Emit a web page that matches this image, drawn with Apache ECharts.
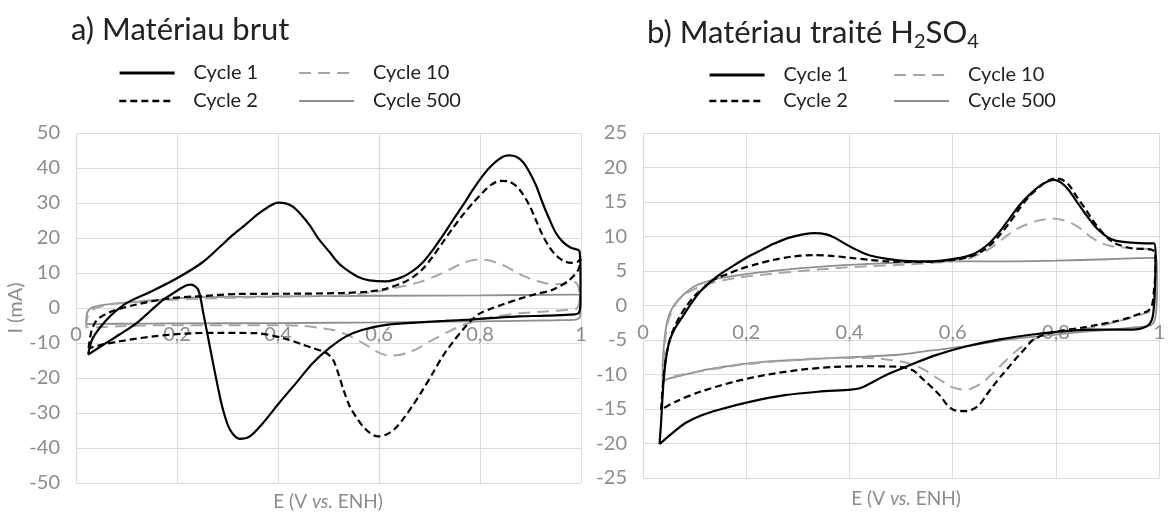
<!DOCTYPE html>
<html>
<head>
<meta charset="utf-8">
<script src="https://cdn.jsdelivr.net/npm/echarts@6/dist/echarts.min.js"></script>
<style>
html,body{margin:0;padding:0;background:#fff;}
#ChartMain{width:1168px;height:515px;}
</style>
</head>
<body>
<div id="ChartMain"></div>
<script>
// a) Matériau brut : [E (V), I (mA)]
var a_cycle1 = [[0.024,-13.3],[0.032,-9],[0.048,-5.5],[0.07,-2],[0.1,1.4],[0.15,4.8],[0.2,8.5],[0.25,13],[0.285,17.5],[0.31,20.8],[0.338,24.1],[0.36,26.8],[0.38,28.8],[0.4,30.1],[0.415,29.9],[0.43,28.9],[0.445,26.8],[0.463,23.6],[0.48,19.8],[0.502,16],[0.52,12.8],[0.542,10.3],[0.56,8.8],[0.581,7.9],[0.614,7.6],[0.647,8.9],[0.667,10.6],[0.687,13.1],[0.707,16.7],[0.727,20.8],[0.746,25],[0.766,29.3],[0.786,33.8],[0.806,37.9],[0.825,41],[0.845,43.2],[0.858,43.6],[0.872,43.2],[0.885,41.7],[0.898,38.8],[0.911,35],[0.924,30],[0.937,25.5],[0.95,21.5],[0.964,18.9],[0.98,17.2],[0.997,16.2],
    [0.999,10],[0.999,2],[0.995,-1.5],[0.977,-1.9],[0.93,-2.2],[0.878,-2.4],[0.83,-2.8],[0.779,-3.3],[0.73,-3.7],[0.68,-4.1],[0.614,-4.8],[0.568,-6.2],[0.535,-8.1],[0.502,-11.4],[0.469,-15.7],[0.436,-21.4],[0.403,-27],[0.37,-32.9],[0.344,-36.7],[0.324,-37.4],[0.305,-34.8],[0.291,-29],[0.278,-20.5],[0.265,-11],[0.252,-1.4],[0.242,5.2],[0.228,6.7],[0.219,6.5],[0.206,5.5],[0.19,4],[0.173,2.4],[0.15,-0.5],[0.12,-4.3],[0.087,-7.5],[0.054,-10.5],[0.024,-13.3]];
var a_cycle2 = [[0.025,-11.5],[0.03,-7],[0.041,-3.5],[0.07,-1],[0.12,1],[0.186,2.8],[0.252,3.4],[0.318,4],[0.45,4.1],[0.53,4.3],[0.581,4.7],[0.614,5.5],[0.647,7.2],[0.667,8.8],[0.687,11.2],[0.707,14.8],[0.727,18.9],[0.746,22.8],[0.766,26.6],[0.786,30],[0.806,33.1],[0.822,35.2],[0.839,36.3],[0.855,36.2],[0.872,34.8],[0.885,32.5],[0.898,29.3],[0.911,25],[0.924,20.8],[0.937,17.5],[0.951,15],[0.965,13.5],[0.98,12.9],[0.993,13.2],[0.999,14],
    [0.995,11],[0.977,8],[0.944,5.2],[0.911,4],[0.878,2.6],[0.845,1],[0.82,-0.3],[0.799,-1.6],[0.783,-3.5],[0.766,-6.2],[0.746,-9.8],[0.726,-13.8],[0.707,-18.5],[0.687,-23.3],[0.667,-27.8],[0.647,-31.9],[0.63,-34.7],[0.614,-36.2],[0.598,-36.7],[0.583,-35.8],[0.568,-33.8],[0.555,-31.2],[0.542,-28.1],[0.53,-23.5],[0.52,-19],[0.509,-14.8],[0.495,-12.8],[0.47,-11.5],[0.45,-10.5],[0.41,-8.6],[0.357,-7.2],[0.285,-7.1],[0.219,-7.3],[0.153,-8.1],[0.087,-9.5],[0.05,-10.5],[0.025,-11.5]];
var a_cycle10 = [[0.02,-5.5],[0.024,-2],[0.035,-0.3],[0.06,0.8],[0.1,1.5],[0.2,2.4],[0.3,2.9],[0.4,3.2],[0.5,3.5],[0.56,4],[0.6,4.8],[0.64,6],[0.68,7.4],[0.71,9],[0.74,11],[0.766,12.8],[0.792,13.8],[0.81,13.8],[0.832,13],[0.852,11.8],[0.872,10.2],[0.892,8.8],[0.911,7.8],[0.93,7.1],[0.951,6.8],[0.97,7],[0.985,7.6],[0.995,6],
    [0.997,2],[0.99,-0.3],[0.977,-0.5],[0.93,-1],[0.878,-1.5],[0.84,-2.2],[0.812,-2.9],[0.79,-3.8],[0.766,-4.9],[0.74,-6.6],[0.713,-8.6],[0.695,-10],[0.68,-11.3],[0.66,-12.6],[0.64,-13.4],[0.621,-13.6],[0.605,-13.1],[0.595,-12.4],[0.578,-10.9],[0.562,-9.5],[0.545,-8.2],[0.529,-7.2],[0.51,-6.3],[0.489,-5.8],[0.45,-5.1],[0.4,-4.9],[0.3,-4.9],[0.186,-4.9],[0.087,-5.2],[0.04,-5.5],[0.02,-5.5]];
var a_cycle500 = [[0.02,-4.5],[0.022,-1.5],[0.03,0],[0.054,0.9],[0.12,1.8],[0.186,2.6],[0.252,3.1],[0.4,3.3],[0.6,3.5],[0.8,3.6],[0.98,3.8],[0.995,3.8],[0.999,1],[0.998,-2.5],[0.99,-3.3],[0.95,-3.5],[0.8,-3.8],[0.6,-4.1],[0.4,-4.3],[0.2,-4.4],[0.08,-4.5],[0.03,-4.6],[0.02,-4.5]];

// b) Matériau traité H2SO4
var b_cycle1 = [[0.032,-20.1],[0.035,-17],[0.038,-13],[0.041,-10],[0.046,-7],[0.052,-5],[0.062,-3.3],[0.075,-1.8],[0.088,-0.3],[0.1,1],[0.113,2.2],[0.13,3.4],[0.151,4.6],[0.18,6],[0.202,7],[0.231,8.1],[0.252,8.9],[0.282,9.8],[0.31,10.3],[0.333,10.5],[0.355,10.3],[0.372,9.8],[0.39,9],[0.41,8.2],[0.43,7.5],[0.448,7.1],[0.47,6.8],[0.5,6.5],[0.53,6.4],[0.563,6.4],[0.59,6.6],[0.614,6.9],[0.635,7.3],[0.653,8],[0.672,9.1],[0.691,10.7],[0.71,12.6],[0.729,14.5],[0.748,16],[0.768,17.3],[0.785,18],[0.797,18.2],[0.81,17.8],[0.825,16.7],[0.84,15.1],[0.855,13.5],[0.87,12],[0.883,10.9],[0.9,9.9],[0.915,9.4],[0.946,9.1],[0.975,9],[0.99,9],
    [0.993,7],[0.992,3],[0.99,0],[0.986,-2],[0.976,-3],[0.947,-3.5],[0.883,-3.5],[0.819,-3.7],[0.755,-4.2],[0.691,-4.9],[0.627,-5.9],[0.563,-7.3],[0.512,-8.8],[0.473,-10],[0.45,-10.9],[0.435,-11.5],[0.42,-12],[0.403,-12.2],[0.339,-12.5],[0.275,-13],[0.211,-13.9],[0.147,-15.1],[0.11,-16],[0.083,-17],[0.055,-18.6],[0.032,-20.1]];
var b_cycle2 = [[0.035,-15.1],[0.038,-12],[0.041,-9.3],[0.047,-6.5],[0.054,-4.4],[0.063,-2.8],[0.072,-1.5],[0.085,0],[0.1,1.4],[0.12,2.7],[0.139,3.8],[0.165,4.6],[0.189,5.3],[0.22,6],[0.252,6.6],[0.29,7.1],[0.328,7.3],[0.365,7.2],[0.403,6.9],[0.44,6.6],[0.474,6.4],[0.537,6.3],[0.601,6.6],[0.63,7],[0.653,7.7],[0.672,8.7],[0.691,10.2],[0.71,12],[0.729,14],[0.748,15.8],[0.768,17.2],[0.785,18.1],[0.8,18.4],[0.813,18.2],[0.826,17.4],[0.84,15.8],[0.857,14],[0.87,12.5],[0.883,11.2],[0.9,9.8],[0.915,9],[0.946,8.3],[0.985,8.1],[0.993,7.5],
    [0.992,4],[0.99,2.3],[0.986,0],[0.978,-0.8],[0.966,-1.1],[0.94,-1.8],[0.915,-2.3],[0.88,-2.8],[0.851,-3.2],[0.806,-3.7],[0.774,-4.3],[0.755,-5],[0.742,-6.1],[0.726,-7.4],[0.71,-8.8],[0.694,-10.2],[0.678,-11.7],[0.665,-13],[0.653,-14.3],[0.64,-15],[0.627,-15.3],[0.614,-15.3],[0.601,-15.1],[0.588,-14.3],[0.576,-13.1],[0.563,-12.1],[0.55,-11.2],[0.537,-10.3],[0.525,-9.5],[0.512,-9.1],[0.499,-8.9],[0.435,-8.8],[0.371,-8.9],[0.307,-9.3],[0.243,-10],[0.179,-11],[0.115,-12.4],[0.064,-13.9],[0.035,-15.1]];
var b_cycle10 = [[0.038,-11],[0.04,-8],[0.043,-5],[0.048,-2.5],[0.058,-0.5],[0.07,0.9],[0.09,2],[0.12,3],[0.18,4],[0.25,4.6],[0.308,5],[0.37,5.4],[0.435,5.7],[0.5,5.9],[0.563,6.2],[0.6,6.4],[0.627,6.7],[0.647,7.3],[0.665,7.9],[0.684,8.9],[0.703,10],[0.722,11],[0.742,11.7],[0.765,12.3],[0.793,12.6],[0.812,12.4],[0.831,11.9],[0.85,11],[0.87,9.8],[0.89,9],[0.908,8.6],[0.946,8.3],[0.985,8.1],[0.993,7.2],
    [0.992,3],[0.99,0.5],[0.985,-0.7],[0.966,-1.3],[0.925,-2.2],[0.883,-3],[0.819,-3.9],[0.774,-4.4],[0.748,-5.3],[0.723,-6.6],[0.7,-8.2],[0.678,-9.8],[0.66,-11],[0.64,-11.9],[0.627,-12.2],[0.611,-12.1],[0.595,-11.7],[0.58,-11],[0.563,-10.2],[0.547,-9.4],[0.531,-8.8],[0.515,-8.4],[0.499,-8.1],[0.435,-7.6],[0.371,-7.6],[0.307,-7.8],[0.243,-8.2],[0.179,-8.7],[0.115,-9.5],[0.064,-10.2],[0.038,-11]];
var b_cycle500 = [[0.038,-11],[0.038,-9],[0.041,-5.4],[0.045,-3],[0.05,-1.5],[0.058,-0.2],[0.069,0.9],[0.085,2],[0.1,2.8],[0.125,3.5],[0.151,4],[0.214,4.7],[0.277,5.2],[0.34,5.6],[0.4,5.9],[0.5,6.2],[0.601,6.4],[0.7,6.4],[0.8,6.5],[0.9,6.7],[0.985,6.9],[0.995,6.9],
    [0.996,3],[0.993,-1.5],[0.985,-2.8],[0.947,-3.2],[0.87,-3.7],[0.8,-4.2],[0.7,-5],[0.627,-5.9],[0.56,-6.5],[0.499,-7.1],[0.43,-7.4],[0.371,-7.6],[0.3,-7.9],[0.243,-8.1],[0.19,-8.5],[0.147,-9],[0.115,-9.4],[0.083,-10],[0.06,-10.4],[0.045,-10.7],[0.038,-11]];

var cycleNames = ['Cycle 1', 'Cycle 2', 'Cycle 10', 'Cycle 500'];

var FONT = 'Lato';
var grey = '#8c8c8c';
var gridColor = '#dcdcdc';

// styles des courbes
var styles = {
    'Cycle 1':   {color: '#000', width: 2.2, type: 'solid'},
    'Cycle 2':   {color: '#000', width: 2.2, type: [7, 4]},
    'Cycle 10':  {color: '#a6a6a6', width: 2, type: [12, 7]},
    'Cycle 500': {color: '#8f8f8f', width: 1.8, type: 'solid'}
};

var grids = [
    {left: 76, top: 133, width: 505, height: 350},
    {left: 643, top: 133, width: 527, height: 345}
];

function makeSeries(name, data, idx) {
    var st = styles[name];
    return {
        name: name, type: 'line', data: data, xAxisIndex: idx, yAxisIndex: idx,
        symbol: 'none', smooth: 0.3, animation: false,
        lineStyle: {color: st.color, width: st.width, type: st.type},
        itemStyle: {color: st.color}
    };
}

function makeLegend(name, left, top) {
    var lw = name === 'Cycle 1' ? 3.2 : (name === 'Cycle 2' ? 2.6 : 2.2);
    return {
        data: [{name: name, lineStyle: {width: lw}, itemStyle: {opacity: 0}}],
        left: left, top: top, padding: 0,
        itemWidth: 55, itemHeight: 14,
        itemStyle: {opacity: 0},
        textStyle: {fontFamily: FONT, fontSize: 20, color: '#222', padding: [0, 0, 0, 14]}
    };
}

// l'axe X est placé à I = 0 (décalage vers le haut depuis le bas de la grille)
function xAxisOf(idx) {
    return {
        type: 'value', gridIndex: idx, min: 0, max: 1, interval: 0.2,
        position: 'bottom', offset: -grids[idx].height / 2,
        axisLine: {show: true, onZero: false, lineStyle: {color: gridColor, width: 1}},
        axisTick: {show: false},
        splitLine: {show: true, lineStyle: {color: gridColor, width: 1}},
        axisLabel: {
            margin: 17, color: grey, fontFamily: FONT, fontSize: 20,
            formatter: function (v) { return String(Math.round(v * 10) / 10).replace('.', ','); }
        }
    };
}

function yAxisOf(idx, min, max, step) {
    return {
        type: 'value', gridIndex: idx, min: min, max: max, interval: step,
        axisLine: {show: false, onZero: false}, axisTick: {show: false},
        splitLine: {show: true, lineStyle: {color: gridColor, width: 1}},
        axisLabel: {margin: 16, color: grey, fontFamily: FONT, fontSize: 20}
    };
}

function GenerateChart() {
    var chart = echarts.init(document.getElementById('ChartMain'));
    var yA = yAxisOf(0, -50, 50, 10);
    yA.name = 'I (mA)';
    yA.nameLocation = 'middle';
    yA.nameRotate = 90;
    yA.nameGap = 33;
    yA.nameTextStyle = {fontFamily: FONT, fontSize: 20, color: grey};

    var series = [];
    var aData = [a_cycle1, a_cycle2, a_cycle10, a_cycle500];
    var bData = [b_cycle1, b_cycle2, b_cycle10, b_cycle500];
    // dessiner le cycle 1 au-dessus
    for (var i = cycleNames.length - 1; i >= 0; i--) {
        series.push(makeSeries(cycleNames[i], aData[i], 0));
        series.push(makeSeries(cycleNames[i], bData[i], 1));
    }

    var axisTitle = '{n|E (V }{i|vs.}{n| ENH)}';
    var axisRich = {
        n: {fontFamily: FONT, fontSize: 19, fill: grey, color: grey},
        i: {fontFamily: FONT, fontSize: 19, fontStyle: 'italic', fill: grey, color: grey}
    };

    var option = {
        backgroundColor: '#fff',
        animation: false,
        title: [
            {text: 'a) Matériau brut', left: 66, top: 9,
             textStyle: {fontFamily: FONT, fontSize: 31, fontWeight: 'normal', color: '#222'}},
            {text: '{t|b) Matériau traité H}{s|2}{t|SO}{s|4}', left: 642, top: 9,
             textStyle: {fontWeight: 'normal', rich: {
                 t: {fontFamily: FONT, fontSize: 31, fontWeight: 'normal', color: '#222', lineHeight: 38, verticalAlign: 'middle'},
                 s: {fontFamily: FONT, fontSize: 20, fontWeight: 'normal', color: '#222', lineHeight: 20, verticalAlign: 'bottom'}
             }}}
        ],
        legend: [
            makeLegend('Cycle 1', 118, 63), makeLegend('Cycle 2', 118, 91),
            makeLegend('Cycle 10', 298, 63), makeLegend('Cycle 500', 298, 91),
            makeLegend('Cycle 1', 708, 65), makeLegend('Cycle 2', 708, 91),
            makeLegend('Cycle 10', 893, 65), makeLegend('Cycle 500', 893, 91)
        ],
        grid: grids,
        xAxis: [xAxisOf(0), xAxisOf(1)],
        yAxis: [yA, yAxisOf(1, -25, 25, 5)],
        graphic: [
            {type: 'text', x: 328, y: 502, style: {text: axisTitle, rich: axisRich, align: 'center', verticalAlign: 'middle'}},
            {type: 'text', x: 906, y: 499, style: {text: axisTitle, rich: axisRich, align: 'center', verticalAlign: 'middle'}}
        ],
        series: series
    };
    chart.setOption(option);
}

GenerateChart();
</script>
</body>
</html>
